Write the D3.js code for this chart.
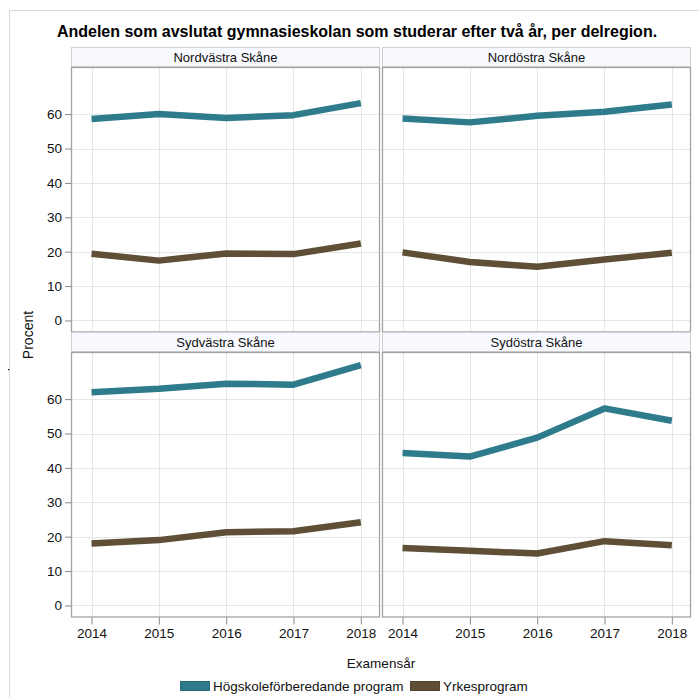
<!DOCTYPE html>
<html>
<head>
<meta charset="utf-8">
<script src="https://cdn.jsdelivr.net/npm/d3@7/dist/d3.min.js"></script>
<style>
  body { margin: 0; background: #fff; }
  svg { display: block; font-family: "Liberation Sans", Arial, sans-serif; }
</style>
</head>
<body>
<svg id="chart" width="699" height="697"></svg>
<script>
// ---- Data ----
const years = [2014, 2015, 2016, 2017, 2018];
const regions = ["Nordvästra Skåne", "Nordöstra Skåne", "Sydvästra Skåne", "Sydöstra Skåne"];
const seriesNames = ["Högskoleförberedande program", "Yrkesprogram"];
const yTicks = [0, 10, 20, 30, 40, 50, 60];

const nordvastraHog   = [58.6, 60.0, 58.9, 59.7, 63.2];
const nordvastraYrkes = [19.4, 17.4, 19.5, 19.3, 22.4];
const nordostraHog    = [58.7, 57.6, 59.5, 60.7, 62.8];
const nordostraYrkes  = [19.8, 17.0, 15.6, 17.7, 19.7];
const sydvastraHog    = [62.0, 63.0, 64.5, 64.2, 69.9];
const sydvastraYrkes  = [18.0, 19.0, 21.3, 21.6, 24.2];
const sydostraHog     = [44.3, 43.3, 48.8, 57.3, 53.7];
const sydostraYrkes   = [16.7, 15.9, 15.1, 18.7, 17.5];

const panelData = [
  [nordvastraHog, nordvastraYrkes],
  [nordostraHog, nordostraYrkes],
  [sydvastraHog, sydvastraYrkes],
  [sydostraHog, sydostraYrkes]
];
const colors = ["#2e7b8c", "#5e4f36"];

// ---- Layout ----
const svg = d3.select("#chart");

// outer frame
svg.append("path").attr("d", "M9.5,697 V10.5 H699").attr("fill", "none").attr("stroke", "#d9d9d9");

svg.append("text").attr("x", 357).attr("y", 37).attr("text-anchor", "middle")
  .attr("font-weight", "bold").attr("font-size", 16).attr("fill", "#000")
  .text("Andelen som avslutat gymnasieskolan som studerar efter två år, per delregion.");

const colX = [71, 382];
const panelW = 309;
const rowStrip = [47, 332];
const stripH = 20;
const plotH = 265.5;

const x = d3.scaleLinear().domain([2013.695, 2018.285]);
const y = d3.scaleLinear().domain([-3.5, 73.7]);

panelData.forEach((series, i) => {
  const col = i % 2, row = Math.floor(i / 2);
  const x0 = colX[col], sTop = rowStrip[row];
  const pTop = sTop + stripH;
  const xs = x.copy().range([x0, x0 + panelW]);
  const ys = y.copy().range([pTop + plotH, pTop]);

  const g = svg.append("g");
  // strip
  g.append("rect").attr("x", x0 + 0.5).attr("y", sTop + 0.5).attr("width", panelW - 1).attr("height", stripH - 1)
    .attr("fill", "#f7f9fe").attr("stroke", "#d0d0d0");
  g.append("text").attr("x", x0 + panelW / 2).attr("y", sTop + 14.5).attr("text-anchor", "middle")
    .attr("font-size", 13).attr("fill", "#111").text(regions[i]);

  // plot background
  g.append("rect").attr("x", x0).attr("y", pTop).attr("width", panelW).attr("height", plotH).attr("fill", "#fff");

  // grid
  g.append("g").selectAll("line").data(yTicks).join("line")
    .attr("x1", x0).attr("x2", x0 + panelW)
    .attr("y1", d => Math.round(ys(d)) + 0.5).attr("y2", d => Math.round(ys(d)) + 0.5)
    .attr("stroke", "#e6e6e6");
  g.append("g").selectAll("line").data(years).join("line")
    .attr("y1", pTop).attr("y2", pTop + plotH)
    .attr("x1", d => Math.round(xs(d)) + 0.5).attr("x2", d => Math.round(xs(d)) + 0.5)
    .attr("stroke", "#e6e6e6");

  // lines
  const line = d3.line().x((d, j) => xs(years[j])).y(d => ys(d));
  series.forEach((vals, k) => {
    g.append("path").datum(vals).attr("d", line).attr("fill", "none")
      .attr("stroke", colors[k]).attr("stroke-width", 6.5)
      .attr("stroke-linejoin", "round").attr("stroke-linecap", "butt");
  });

  // frame
  g.append("rect").attr("x", x0 + 0.5).attr("y", pTop + 0.5).attr("width", panelW - 1).attr("height", plotH - 1)
    .attr("fill", "none").attr("stroke", "#a3a3a3").attr("stroke-width", 1.3);

  // axes
  if (col === 0) {
    const ax = d3.axisLeft(ys).tickValues(yTicks).tickSize(6).tickPadding(3).tickSizeOuter(0);
    const ga = g.append("g").attr("transform", `translate(${x0},0)`).call(ax);
    ga.select(".domain").remove();
    ga.selectAll(".tick line").attr("stroke", "#8a8a8a");
    ga.selectAll(".tick text").attr("font-size", 13.5).attr("fill", "#111").attr("font-family", "Liberation Sans, Arial, sans-serif");
  }
  if (row === 1) {
    const ax = d3.axisBottom(xs).tickValues(years).tickFormat(d3.format("d")).tickSize(7).tickPadding(4).tickSizeOuter(0);
    const ga = g.append("g").attr("transform", `translate(0,${pTop + plotH})`).call(ax);
    ga.select(".domain").remove();
    ga.selectAll(".tick line").attr("stroke", "#8a8a8a");
    ga.selectAll(".tick text").attr("font-size", 13.5).attr("fill", "#111").attr("font-family", "Liberation Sans, Arial, sans-serif");
  }
});

// axis titles
svg.append("text").attr("transform", "translate(33,335) rotate(-90)").attr("text-anchor", "middle")
  .attr("font-size", 14).attr("fill", "#111").text("Procent");
svg.append("text").attr("x", 381).attr("y", 668).attr("text-anchor", "middle")
  .attr("font-size", 13.5).attr("fill", "#111").text("Examensår");

// small dot artefact
svg.append("rect").attr("x", 8).attr("y", 369).attr("width", 1.2).attr("height", 1.2).attr("fill", "#000");

// legend
const legendX = [180, 410];
seriesNames.forEach((name, k) => {
  svg.append("rect").attr("x", legendX[k] + 0.5).attr("y", 681.5).attr("width", 29).attr("height", 9)
    .attr("fill", colors[k]).attr("stroke", d3.color(colors[k]).darker(0.4)).attr("stroke-width", 1);
  svg.append("text").attr("x", legendX[k] + 33).attr("y", 690.5).attr("font-size", 13.5).attr("fill", "#111").text(name);
});
</script>
</body>
</html>
